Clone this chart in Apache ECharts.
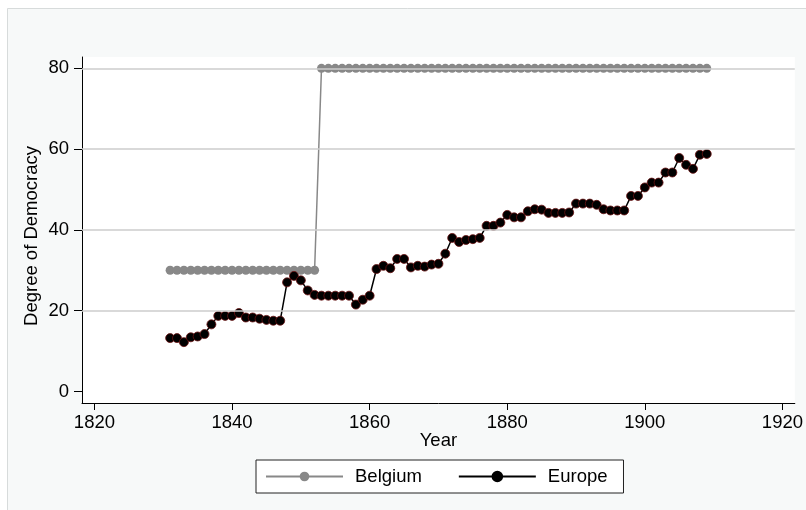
<!DOCTYPE html>
<html>
<head>
<meta charset="utf-8">
<style>
  html, body { margin: 0; padding: 0; background: #ffffff; }
  #chart { width: 806px; height: 510px; }
</style>
<script src="https://cdn.jsdelivr.net/npm/echarts@6/dist/echarts.min.js"></script>
</head>
<body>
<div id="chart"></div>
<script>
// ---- data ----
var years = [];
for (var y = 1831; y <= 1909; y++) years.push(y);

var belgium = [
  30,30,30,30,30,30,30,30,30,30,30,30,30,30,30,30,30,30,30,30,30,30,
  80,80,80,80,80,80,80,80,80,80,80,80,80,80,80,80,80,80,80,80,80,80,80,80,
  80,80,80,80,80,80,80,80,80,80,80,80,80,80,80,80,80,80,80,80,80,80,80,80,
  80,80,80,80,80,80,80,80,80
];

var europe = [
  13.2, 13.2, 12.2, 13.4, 13.6, 14.2, 16.6, 18.7, 18.7, 18.7,
  19.4, 18.3, 18.3, 18.0, 17.7, 17.5, 17.5, 27.0, 28.6, 27.5,
  25.0, 23.9, 23.7, 23.7, 23.7, 23.7, 23.7, 21.5, 22.7, 23.7,
  30.3, 31.1, 30.5, 32.8, 32.8, 30.7, 31.1, 30.9, 31.4, 31.6,
  34.1, 38.0, 37.0, 37.5, 37.7, 38.0, 41.0, 41.0, 41.8, 43.7,
  43.1, 43.1, 44.6, 45.1, 45.0, 44.2, 44.2, 44.2, 44.3, 46.5,
  46.5, 46.5, 46.2, 45.1, 44.8, 44.8, 44.8, 48.4, 48.4, 50.5,
  51.7, 51.7, 54.2, 54.2, 57.8, 56.1, 55.1, 58.6, 58.8
];

var xTicks = [1820, 1840, 1860, 1880, 1900, 1920];
var yTicks = [0, 20, 40, 60, 80];
var yGrid = [20, 40, 60, 80];

// ---- build ----
function pairs(xs, vs) {
  return xs.map(function (x, i) { return [x, vs[i]]; });
}

var FONT = '"Liberation Sans", Arial, Helvetica, sans-serif';
var FS = 18.5;

var chart = echarts.init(document.getElementById('chart'), null, { renderer: 'canvas' });

chart.setOption({
  animation: false,
  backgroundColor: '#ffffff',
  textStyle: { fontFamily: FONT, color: '#000' },
  graphic: [{
    type: 'rect',
    z: -100,
    silent: true,
    shape: { x: 7.5, y: 8.5, width: 830, height: 530 },
    style: { fill: '#f7f9f9', stroke: '#d7dbdb', lineWidth: 1 }
  }],
  grid: {
    left: 82, top: 57, width: 715, height: 346,
    show: true, backgroundColor: '#ffffff', borderWidth: 0,
    containLabel: false
  },
  legend: {
    left: 256, top: 460,
    orient: 'horizontal',
    backgroundColor: '#ffffff',
    borderColor: '#222',
    borderWidth: 1,
    borderRadius: 0,
    padding: [7, 16, 7, 9],
    itemGap: 36,
    itemWidth: 77,
    itemHeight: 12,
    textStyle: { fontSize: FS, color: '#000', fontFamily: FONT, padding: [0, 0, 0, 7] },
    data: [
      { name: 'Belgium' },
      { name: 'Europe', itemStyle: { borderColor: '#000000' } }
    ]
  },
  xAxis: {
    type: 'value',
    min: 1818.19, max: 1921.8,
    name: 'Year',
    nameLocation: 'middle',
    nameMoveOverlap: false,
    nameGap: 38,
    nameTextStyle: { fontSize: FS, color: '#000', fontFamily: FONT, verticalAlign: 'middle' },
    axisLine: { show: true, onZero: false, lineStyle: { color: '#000', width: 1 } },
    axisTick: { show: true, length: 7, customValues: xTicks, lineStyle: { color: '#000' } },
    axisLabel: {
      show: true, customValues: xTicks, margin: 10, fontSize: FS, color: '#000', fontFamily: FONT,
      formatter: function (v) { return String(Math.round(v)); }
    },
    splitLine: { show: false }
  },
  yAxis: {
    type: 'value',
    min: -2.87, max: 82.8,
    name: 'Degree of Democracy',
    nameLocation: 'middle',
    nameMoveOverlap: false,
    nameGap: 41,
    nameTextStyle: { fontSize: FS, color: '#000', fontFamily: FONT, padding: [0, 12, 0, 0] },
    axisLine: { show: true, onZero: false, lineStyle: { color: '#000', width: 1 } },
    axisTick: { show: true, length: 8, customValues: yTicks, lineStyle: { color: '#000' } },
    axisLabel: {
      show: true, customValues: yTicks, margin: 13, fontSize: FS, color: '#000', fontFamily: FONT,
      formatter: function (v) { return String(Math.round(v)); }
    },
    splitLine: { show: false }
  },
  series: [
    {
      name: 'grid',
      type: 'line',
      data: [],
      z: 1,
      silent: true,
      markLine: {
        silent: true,
        symbol: 'none',
        label: { show: false },
        lineStyle: { color: '#cdcdcd', width: 1.6, type: 'solid' },
        data: yGrid.map(function (v) { return { yAxis: v }; })
      }
    },
    {
      name: 'Belgium',
      type: 'line',
      z: 3,
      data: pairs(years, belgium),
      symbol: 'circle',
      symbolSize: 9,
      showAllSymbol: true,
      lineStyle: { color: '#888888', width: 1.5 },
      itemStyle: { color: '#888888', borderWidth: 0 }
    },
    {
      name: 'Europe',
      type: 'line',
      z: 4,
      data: pairs(years, europe),
      symbol: 'circle',
      symbolSize: 9,
      showAllSymbol: true,
      lineStyle: { color: '#000000', width: 1.5 },
      itemStyle: { color: '#000000', borderColor: '#6a1212', borderWidth: 0.8 }
    }
  ]
});
</script>
</body>
</html>
